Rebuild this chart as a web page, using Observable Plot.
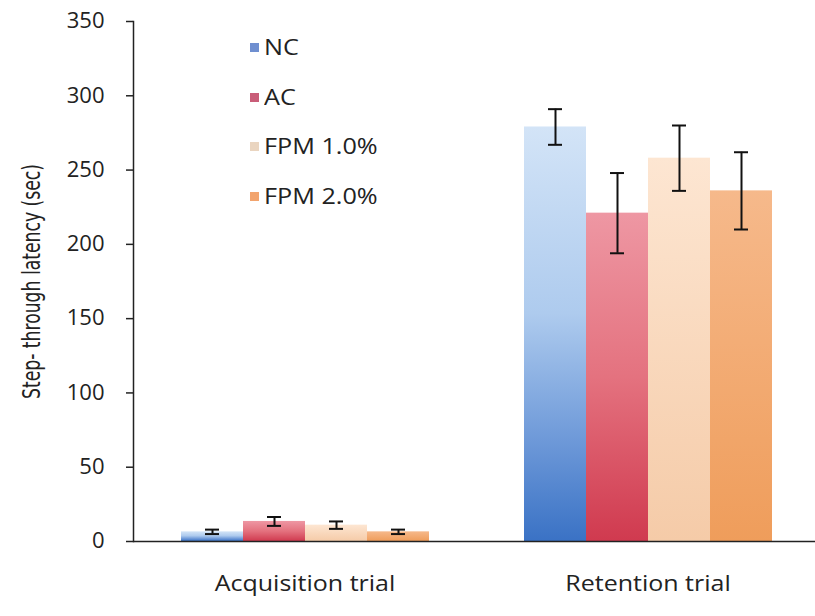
<!DOCTYPE html>
<html>
<head>
<meta charset="utf-8">
<script src="https://cdn.jsdelivr.net/npm/d3@7"></script>
<script src="https://cdn.jsdelivr.net/npm/@observablehq/plot@0.6"></script>
<style>
  body { margin: 0; background: #fff; }
  #chart { position: relative; width: 815px; height: 616px; font-family: "Open Sans", sans-serif; color: #222; }
  .legend { position: absolute; left: 250px; top: 23px; }
  .legend .row { display: flex; align-items: center; height: 49.5px; font-size: 21px; line-height: 1; }
  .legend .swatch { width: 9px; height: 9px; margin-right: 5px; }
  .legend .name { display: inline-block; transform: scaleX(1.2); transform-origin: left center; white-space: nowrap; }
</style>
</head>
<body>
<div id="chart"></div>
<script>
// Step-through latency by trial and treatment group (mean ± error)
const trials = ["Acquisition trial", "Retention trial"];
const groups = ["NC", "AC", "FPM 1.0%", "FPM 2.0%"];
const acquisitionMean = [6.5, 13.5, 11, 6.5];
const acquisitionErr = [1.5, 3, 2.5, 1.5];
const retentionMean = [279, 221, 258, 236];
const retentionErr = [12, 27, 22, 26];
const yTicks = [0, 50, 100, 150, 200, 250, 300, 350];
const yTitle = "Step- through latency (sec)";

// Vertical gradients per group (light at top, saturated at bottom)
const gradients = [
  {id: "grad-nc", stops: [[0, "#d3e4f7"], [0.45, "#aecbee"], [0.75, "#6f9ad9"], [1, "#3a72c5"]]},
  {id: "grad-ac", stops: [[0, "#ee97a3"], [0.5, "#e4727f"], [1, "#d03a4f"]]},
  {id: "grad-f1", stops: [[0, "#fde6d2"], [1, "#f5cba8"]]},
  {id: "grad-f2", stops: [[0, "#f6b98b"], [1, "#ef9d5b"]]}
];
const swatchColors = ["#6f8fd0", "#c95d78", "#ead5c0", "#f2a46e"];

const rows = [];
trials.forEach((trial, ti) => {
  const means = ti === 0 ? acquisitionMean : retentionMean;
  const errs = ti === 0 ? acquisitionErr : retentionErr;
  groups.forEach((group, gi) => rows.push({trial, group, mean: means[gi], err: errs[gi]}));
});

const capInset = 24;
const ink = "#222";

const plot = Plot.plot({
  width: 815,
  height: 616,
  marginLeft: 133,
  marginRight: -4,
  marginTop: 21,
  marginBottom: 75,
  style: {fontFamily: "'Open Sans', sans-serif", fontSize: "21px", color: ink, background: "white", overflow: "visible"},
  fx: {domain: trials, paddingInner: 0, paddingOuter: 0, label: null},
  x: {domain: groups, axis: null, paddingInner: 0, paddingOuter: 0.75},
  y: {domain: [0, 350]},
  color: {domain: groups, range: gradients.map(g => `url(#${g.id})`)},
  marks: [
    Plot.barY(rows, {fx: "trial", x: "group", y: "mean", fill: "group"}),
    Plot.ruleX(rows, {fx: "trial", x: "group", y1: d => d.mean - d.err, y2: d => d.mean + d.err, stroke: "#111", strokeWidth: 2}),
    Plot.tickY(rows, {fx: "trial", x: "group", y: d => d.mean + d.err, stroke: "#111", strokeWidth: 2, insetLeft: capInset, insetRight: capInset}),
    Plot.tickY(rows, {fx: "trial", x: "group", y: d => d.mean - d.err, stroke: "#111", strokeWidth: 2, insetLeft: capInset, insetRight: capInset}),
    // category baseline across both groups
    Plot.ruleY([0], {stroke: ink, strokeWidth: 1.5}),
    // vertical axis line, drawn in the first panel only
    Plot.frame({anchor: "left", fx: () => trials[0], stroke: ink, strokeWidth: 1.5}),
    Plot.axisY({ticks: yTicks, tickSize: 7, tickPadding: 22, stroke: ink, strokeWidth: 1.5,
      label: yTitle, labelAnchor: "center", labelOffset: 111, labelArrow: "none"}),
    Plot.axisFx({anchor: "bottom", tickSize: 0, tickPadding: 35, label: null})
  ]
});

// Gradient definitions referenced by the bar fills
const defs = d3.create("svg:defs");
gradients.forEach(g => {
  const lg = defs.append("linearGradient").attr("id", g.id).attr("x1", 0).attr("y1", 0).attr("x2", 0).attr("y2", 1);
  g.stops.forEach(([o, c]) => lg.append("stop").attr("offset", o).attr("stop-color", c));
});
plot.insertBefore(defs.node(), plot.firstChild);

const chart = document.getElementById("chart");
chart.appendChild(plot);

// Widen horizontal labels (Calibri-like proportions)
function stretch(selector, factor) {
  d3.select(plot).selectAll(selector).each(function () {
    const len = this.getComputedTextLength();
    if (len > 0) {
      this.setAttribute("textLength", len * factor);
      this.setAttribute("lengthAdjust", "spacingAndGlyphs");
    }
  });
}
stretch('g[aria-label="y-axis tick label"] text', 1.05);
stretch('g[aria-label="fx-axis tick label"] text', 1.19);

// Rotated title in a narrow face, spanning a bit under half the frame height
const [yBottom, yTop] = plot.scale("y").range;
d3.select(plot).selectAll('g[aria-label="y-axis label"] text').each(function () {
  this.style.fontFamily = "'Liberation Sans Narrow', 'DejaVu Sans Condensed', 'Open Sans', sans-serif";
  this.style.fontSize = "24px";
  this.setAttribute("textLength", 0.452 * Math.abs(yBottom - yTop));
  this.setAttribute("lengthAdjust", "spacingAndGlyphs");
});

// Legend overlaid inside the plot area
const legend = d3.select(chart).append("div").attr("class", "legend");
groups.forEach((g, i) => {
  const row = legend.append("div").attr("class", "row");
  row.append("div").attr("class", "swatch").style("background", swatchColors[i]);
  row.append("span").attr("class", "name").text(g);
});
</script>
</body>
</html>
